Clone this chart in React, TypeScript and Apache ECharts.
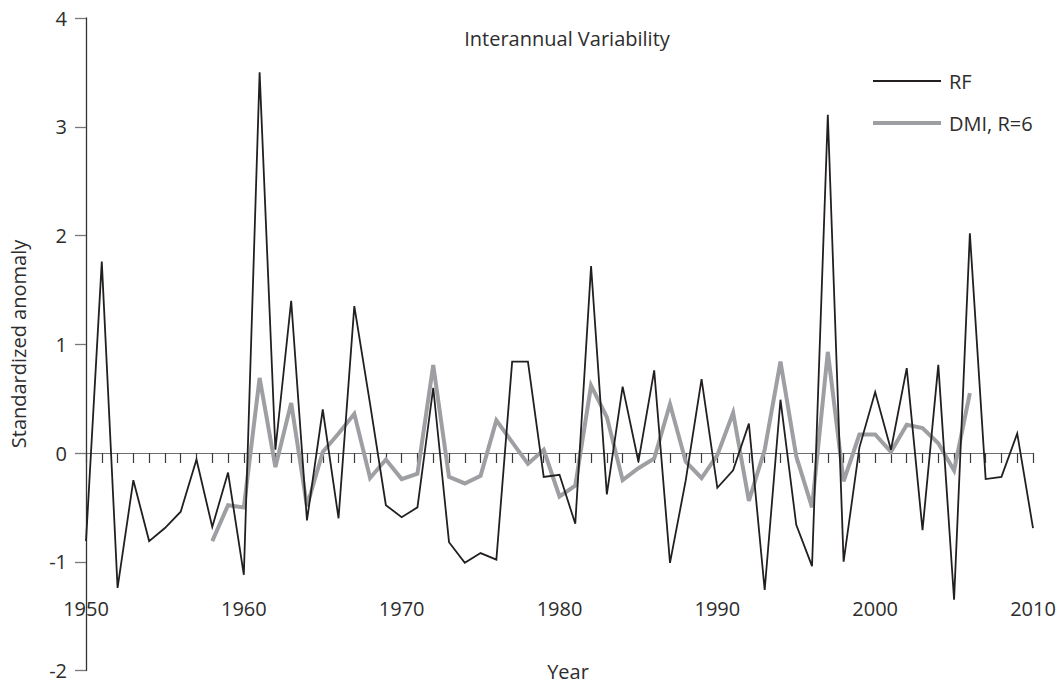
import { useEffect, useRef } from 'react';
import * as echarts from 'echarts';

const years = [
  1950, 1951, 1952, 1953, 1954, 1955, 1956, 1957, 1958, 1959,
  1960, 1961, 1962, 1963, 1964, 1965, 1966, 1967, 1968, 1969,
  1970, 1971, 1972, 1973, 1974, 1975, 1976, 1977, 1978, 1979,
  1980, 1981, 1982, 1983, 1984, 1985, 1986, 1987, 1988, 1989,
  1990, 1991, 1992, 1993, 1994, 1995, 1996, 1997, 1998, 1999,
  2000, 2001, 2002, 2003, 2004, 2005, 2006, 2007, 2008, 2009,
  2010,
];

const rfValues = [
  -0.81, 1.76, -1.24, -0.25, -0.81, -0.69, -0.54, -0.06, -0.68, -0.18,
  -1.12, 3.5, 0.03, 1.4, -0.62, 0.4, -0.6, 1.35, 0.45, -0.48,
  -0.59, -0.5, 0.6, -0.82, -1.01, -0.92, -0.98, 0.84, 0.84, -0.22,
  -0.2, -0.65, 1.72, -0.38, 0.61, -0.08, 0.76, -1.01, -0.25, 0.68,
  -0.32, -0.16, 0.27, -1.26, 0.49, -0.66, -1.04, 3.11, -1.0, 0.05,
  0.56, 0.03, 0.78, -0.71, 0.81, -1.35, 2.02, -0.24, -0.22, 0.18,
  -0.69,
];

const dmiYears = [
  1958, 1959, 1960, 1961, 1962, 1963, 1964, 1965, 1966, 1967,
  1968, 1969, 1970, 1971, 1972, 1973, 1974, 1975, 1976, 1977,
  1978, 1979, 1980, 1981, 1982, 1983, 1984, 1985, 1986, 1987,
  1988, 1989, 1990, 1991, 1992, 1993, 1994, 1995, 1996, 1997,
  1998, 1999, 2000, 2001, 2002, 2003, 2004, 2005, 2006,
];

const dmiValues = [
  -0.81, -0.48, -0.5, 0.69, -0.13, 0.46, -0.49, 0.01, 0.18, 0.36,
  -0.23, -0.06, -0.24, -0.19, 0.81, -0.22, -0.28, -0.21, 0.3, 0.1,
  -0.1, 0.03, -0.4, -0.3, 0.62, 0.33, -0.25, -0.14, -0.05, 0.45,
  -0.08, -0.23, -0.02, 0.37, -0.44, 0.03, 0.84, -0.03, -0.5, 0.93,
  -0.26, 0.17, 0.17, 0.01, 0.26, 0.23, 0.09, -0.16, 0.55,
];

const seriesNames = ['RF', 'DMI, R=6'];
const chartTitle = 'Interannual Variability';
const xTitle = 'Year';
const yTitle = 'Standardized anomaly';

export default function App() {
  const ref = useRef<HTMLDivElement>(null);

  useEffect(() => {
    if (!ref.current) return;
    const chart = echarts.init(ref.current, null, { renderer: 'svg' });
    const font = '"Open Sans", sans-serif';
    const textColor = '#2d2d2d';
    const black = '#231f20';
    const gray = '#9d9fa2';

    chart.setOption({
      animation: false,
      backgroundColor: '#ffffff',
      textStyle: { fontFamily: font },
      grid: {
        left: 86,
        right: 28,
        top: 18,
        bottom: 12.5,
        containLabel: false,
        outerBoundsMode: 'none',
      },
      xAxis: [
        {
          type: 'value',
          min: 1950,
          max: 2010,
          interval: 10,
          axisLine: { show: true, onZero: true, lineStyle: { color: '#6d6e71', width: 1.2 } },
          axisTick: { show: true, length: 10, lineStyle: { color: '#3a3a3a', width: 1.2 } },
          minorTick: { show: true, splitNumber: 10, length: 10, lineStyle: { color: '#3a3a3a', width: 1.2 } },
          splitLine: { show: false },
          minorSplitLine: { show: false },
          axisLabel: { show: false },
        },
        {
          type: 'value',
          position: 'bottom',
          offset: -62.5,
          min: 1950,
          max: 2010,
          interval: 10,
          axisLine: { show: false, onZero: false },
          axisTick: { show: false },
          splitLine: { show: false },
          axisLabel: {
            margin: 0,
            verticalAlign: 'middle',
            fontSize: 20,
            color: textColor,
            fontFamily: font,
            formatter: (v: number) => String(v),
          },
        },
      ],
      yAxis: {
        type: 'value',
        min: -2,
        max: 4,
        interval: 1,
        axisLine: { show: true, onZero: false, lineStyle: { color: '#333333', width: 1.3 } },
        axisTick: { show: true, length: 11, lineStyle: { color: '#77787b', width: 1.3 } },
        splitLine: { show: false },
        axisLabel: { margin: 19, fontSize: 20, color: textColor, fontFamily: font },
      },
      legend: {
        orient: 'vertical',
        left: 871,
        top: 71,
        padding: 0,
        itemWidth: 68,
        itemHeight: 20,
        itemGap: 22,
        selectedMode: false,
        itemStyle: { opacity: 0, borderWidth: 0 },
        data: [
          { name: seriesNames[0], lineStyle: { width: 2 }, itemStyle: { opacity: 0, borderWidth: 0 } },
          { name: seriesNames[1], lineStyle: { width: 4 }, itemStyle: { opacity: 0, borderWidth: 0 } },
        ],
        textStyle: { fontSize: 20, color: textColor, fontFamily: font, padding: [0, 0, 0, 3] },
      },
      graphic: [
        {
          type: 'text',
          x: 567,
          y: 38,
          style: { text: chartTitle, fontSize: 20, fontFamily: font, fill: textColor, align: 'center', verticalAlign: 'middle' },
        },
        {
          type: 'text',
          x: 568,
          y: 671,
          style: { text: xTitle, fontSize: 20, fontFamily: font, fill: textColor, align: 'center', verticalAlign: 'middle' },
        },
        {
          type: 'text',
          x: 18,
          y: 344,
          rotation: Math.PI / 2,
          style: { text: yTitle, fontSize: 20, fontFamily: font, fill: textColor, align: 'center', verticalAlign: 'middle' },
        },
      ],
      series: [
        {
          name: seriesNames[1],
          type: 'line',
          xAxisIndex: 0,
          data: dmiYears.map((y, i) => [y, dmiValues[i]]),
          symbol: 'none',
          color: gray,
          lineStyle: { color: gray, width: 4, join: 'miter' },
          z: 3,
        },
        {
          name: seriesNames[0],
          type: 'line',
          xAxisIndex: 0,
          data: years.map((y, i) => [y, rfValues[i]]),
          symbol: 'none',
          color: black,
          lineStyle: { color: black, width: 1.8, join: 'miter' },
          z: 4,
        },
      ],
    });

    return () => chart.dispose();
  }, []);

  return (
    <div
      ref={ref}
      style={{ position: 'fixed', left: 0, top: 0, width: 1061, height: 683, background: '#fff' }}
    />
  );
}
